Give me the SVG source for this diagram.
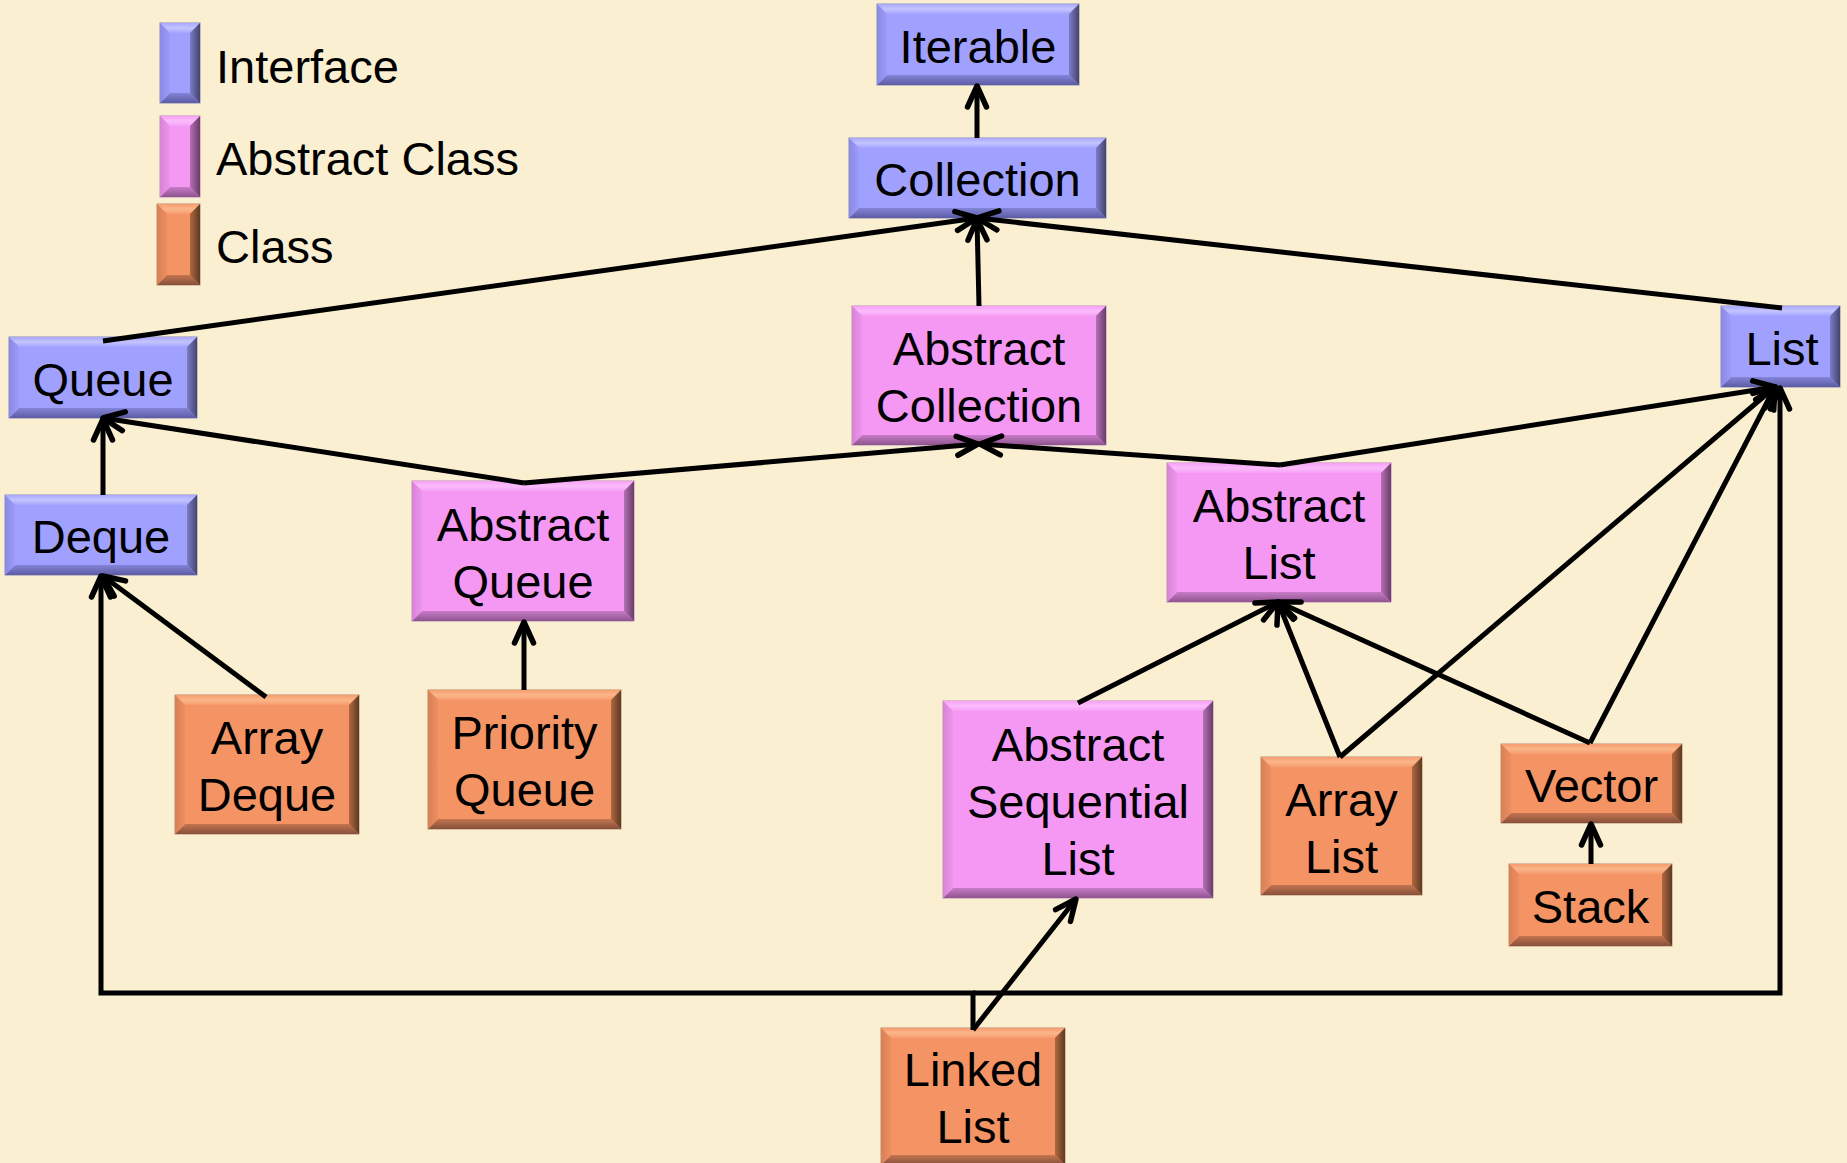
<svg xmlns="http://www.w3.org/2000/svg" width="1847" height="1163" viewBox="0 0 1847 1163">
<defs>
<style>
.bg{fill:#FBEFD2}
text{font-family:"Liberation Sans",Arial,sans-serif;font-size:47px;fill:#000;text-anchor:middle}
.legend text{text-anchor:start}
.edge{fill:none;stroke:#000;stroke-width:5;stroke-linecap:butt;stroke-linejoin:miter}
.iface .m{fill:#A0A0FF;stroke:#8A8AB8;stroke-width:1}
.iface .t{fill:url(#gIT)}
.iface .b{fill:url(#gIB)}
.iface .l{fill:url(#gIL)}
.iface .r{fill:url(#gIR)}
.abs .m{fill:#F498F4;stroke:#B890B8;stroke-width:1}
.abs .t{fill:url(#gAT)}
.abs .b{fill:url(#gAB)}
.abs .l{fill:url(#gAL)}
.abs .r{fill:url(#gAR)}
.cls .m{fill:#F49464;stroke:#B89070;stroke-width:1}
.cls .t{fill:url(#gCT)}
.cls .b{fill:url(#gCB)}
.cls .l{fill:url(#gCL)}
.cls .r{fill:url(#gCR)}
</style>
<linearGradient id="gIT" x1="0" y1="0" x2="0" y2="1"><stop offset="0" stop-color="#A8A8FF"/><stop offset="0.5" stop-color="#C4C4FF"/><stop offset="1" stop-color="#A4A4FF"/></linearGradient>
<linearGradient id="gIB" x1="0" y1="0" x2="0" y2="1"><stop offset="0" stop-color="#8484D8"/><stop offset="1" stop-color="#5C5CA4"/></linearGradient>
<linearGradient id="gIL" x1="0" y1="0" x2="1" y2="0"><stop offset="0" stop-color="#8A8AE6"/><stop offset="1" stop-color="#9C9CF8"/></linearGradient>
<linearGradient id="gIR" x1="0" y1="0" x2="1" y2="0"><stop offset="0" stop-color="#7C7CC8"/><stop offset="1" stop-color="#44446E"/></linearGradient>
<linearGradient id="gAT" x1="0" y1="0" x2="0" y2="1"><stop offset="0" stop-color="#F6A0F6"/><stop offset="0.5" stop-color="#FBBCFB"/><stop offset="1" stop-color="#F6A0F6"/></linearGradient>
<linearGradient id="gAB" x1="0" y1="0" x2="0" y2="1"><stop offset="0" stop-color="#C87CC8"/><stop offset="1" stop-color="#8E548E"/></linearGradient>
<linearGradient id="gAL" x1="0" y1="0" x2="1" y2="0"><stop offset="0" stop-color="#D684D6"/><stop offset="1" stop-color="#EE94EE"/></linearGradient>
<linearGradient id="gAR" x1="0" y1="0" x2="1" y2="0"><stop offset="0" stop-color="#B470B4"/><stop offset="1" stop-color="#6A3C6A"/></linearGradient>
<linearGradient id="gCT" x1="0" y1="0" x2="0" y2="1"><stop offset="0" stop-color="#F69C6E"/><stop offset="0.5" stop-color="#FBB68A"/><stop offset="1" stop-color="#F69C6E"/></linearGradient>
<linearGradient id="gCB" x1="0" y1="0" x2="0" y2="1"><stop offset="0" stop-color="#C47450"/><stop offset="1" stop-color="#86503A"/></linearGradient>
<linearGradient id="gCL" x1="0" y1="0" x2="1" y2="0"><stop offset="0" stop-color="#D88058"/><stop offset="1" stop-color="#EE8E60"/></linearGradient>
<linearGradient id="gCR" x1="0" y1="0" x2="1" y2="0"><stop offset="0" stop-color="#B06840"/><stop offset="1" stop-color="#5E3A24"/></linearGradient>
<marker id="ah" viewBox="-28 -16 32 32" refX="0" refY="0" markerWidth="32" markerHeight="32" markerUnits="userSpaceOnUse" orient="auto">
<path d="M-21,-9.5 L0,0 L-21,9.5" fill="none" stroke="#000" stroke-width="5.5" stroke-linecap="round" stroke-linejoin="round"/>
</marker>
</defs>
<rect class="bg" x="0" y="0" width="1847" height="1163"/>

<g id="legend" class="legend">
<g id="legend-interface" class="iface">
<rect class="m" x="160" y="23" width="40" height="80"/>
<polygon class="t" points="160,23 200,23 190,33 170,33"/>
<polygon class="b" points="160,103 200,103 190,93 170,93"/>
<polygon class="l" points="160,23 170,33 170,93 160,103"/>
<polygon class="r" points="200,23 190,33 190,93 200,103"/>
<text x="216" y="83">Interface</text>
</g>
<g id="legend-abstract" class="abs">
<rect class="m" x="160" y="116" width="40" height="81"/>
<polygon class="t" points="160,116 200,116 190,126 170,126"/>
<polygon class="b" points="160,197 200,197 190,187 170,187"/>
<polygon class="l" points="160,116 170,126 170,187 160,197"/>
<polygon class="r" points="200,116 190,126 190,187 200,197"/>
<text x="216" y="175">Abstract Class</text>
</g>
<g id="legend-class" class="cls">
<rect class="m" x="157" y="204" width="43" height="81"/>
<polygon class="t" points="157,204 200,204 190,214 167,214"/>
<polygon class="b" points="157,285 200,285 190,275 167,275"/>
<polygon class="l" points="157,204 167,214 167,275 157,285"/>
<polygon class="r" points="200,204 190,214 190,275 200,285"/>
<text x="216" y="263">Class</text>
</g>
</g>

<g id="node-iterable" class="iface">
<rect class="m" x="877" y="4" width="202" height="81"/>
<polygon class="t" points="877,4 1079,4 1069,14 887,14"/>
<polygon class="b" points="877,85 1079,85 1069,75 887,75"/>
<polygon class="l" points="877,4 887,14 887,75 877,85"/>
<polygon class="r" points="1079,4 1069,14 1069,75 1079,85"/>
<text x="978" y="62.5">Iterable</text>
</g>
<g id="node-collection" class="iface">
<rect class="m" x="849" y="138" width="257" height="80"/>
<polygon class="t" points="849,138 1106,138 1096,148 859,148"/>
<polygon class="b" points="849,218 1106,218 1096,208 859,208"/>
<polygon class="l" points="849,138 859,148 859,208 849,218"/>
<polygon class="r" points="1106,138 1096,148 1096,208 1106,218"/>
<text x="977.5" y="196">Collection</text>
</g>
<g id="node-queue" class="iface">
<rect class="m" x="9" y="337" width="188" height="81"/>
<polygon class="t" points="9,337 197,337 187,347 19,347"/>
<polygon class="b" points="9,418 197,418 187,408 19,408"/>
<polygon class="l" points="9,337 19,347 19,408 9,418"/>
<polygon class="r" points="197,337 187,347 187,408 197,418"/>
<text x="103" y="395.5">Queue</text>
</g>
<g id="node-deque" class="iface">
<rect class="m" x="5" y="495" width="192" height="80"/>
<polygon class="t" points="5,495 197,495 187,505 15,505"/>
<polygon class="b" points="5,575 197,575 187,565 15,565"/>
<polygon class="l" points="5,495 15,505 15,565 5,575"/>
<polygon class="r" points="197,495 187,505 187,565 197,575"/>
<text x="101" y="553">Deque</text>
</g>
<g id="node-list" class="iface">
<rect class="m" x="1721" y="306" width="119" height="81"/>
<polygon class="t" points="1721,306 1840,306 1830,316 1731,316"/>
<polygon class="b" points="1721,387 1840,387 1830,377 1731,377"/>
<polygon class="l" points="1721,306 1731,316 1731,377 1721,387"/>
<polygon class="r" points="1840,306 1830,316 1830,377 1840,387"/>
<text x="1782" y="364.5">List</text>
</g>
<g id="node-abstract-collection" class="abs">
<rect class="m" x="852" y="306" width="254" height="139"/>
<polygon class="t" points="852,306 1106,306 1096,316 862,316"/>
<polygon class="b" points="852,445 1106,445 1096,435 862,435"/>
<polygon class="l" points="852,306 862,316 862,435 852,445"/>
<polygon class="r" points="1106,306 1096,316 1096,435 1106,445"/>
<text x="979" y="365">Abstract</text>
<text x="979" y="422">Collection</text>
</g>
<g id="node-abstract-queue" class="abs">
<rect class="m" x="412" y="481" width="222" height="140"/>
<polygon class="t" points="412,481 634,481 624,491 422,491"/>
<polygon class="b" points="412,621 634,621 624,611 422,611"/>
<polygon class="l" points="412,481 422,491 422,611 412,621"/>
<polygon class="r" points="634,481 624,491 624,611 634,621"/>
<text x="523" y="540.5">Abstract</text>
<text x="523" y="597.5">Queue</text>
</g>
<g id="node-abstract-list" class="abs">
<rect class="m" x="1167" y="463" width="224" height="139"/>
<polygon class="t" points="1167,463 1391,463 1381,473 1177,473"/>
<polygon class="b" points="1167,602 1391,602 1381,592 1177,592"/>
<polygon class="l" points="1167,463 1177,473 1177,592 1167,602"/>
<polygon class="r" points="1391,463 1381,473 1381,592 1391,602"/>
<text x="1279" y="522">Abstract</text>
<text x="1279" y="579">List</text>
</g>
<g id="node-abstract-sequential-list" class="abs">
<rect class="m" x="943" y="701" width="270" height="197"/>
<polygon class="t" points="943,701 1213,701 1203,711 953,711"/>
<polygon class="b" points="943,898 1213,898 1203,888 953,888"/>
<polygon class="l" points="943,701 953,711 953,888 943,898"/>
<polygon class="r" points="1213,701 1203,711 1203,888 1213,898"/>
<text x="1078" y="760.5">Abstract</text>
<text x="1078" y="817.5">Sequential</text>
<text x="1078" y="874.5">List</text>
</g>
<g id="node-array-deque" class="cls">
<rect class="m" x="175" y="695" width="184" height="139"/>
<polygon class="t" points="175,695 359,695 349,705 185,705"/>
<polygon class="b" points="175,834 359,834 349,824 185,824"/>
<polygon class="l" points="175,695 185,705 185,824 175,834"/>
<polygon class="r" points="359,695 349,705 349,824 359,834"/>
<text x="267" y="754">Array</text>
<text x="267" y="811">Deque</text>
</g>
<g id="node-priority-queue" class="cls">
<rect class="m" x="428" y="690" width="193" height="139"/>
<polygon class="t" points="428,690 621,690 611,700 438,700"/>
<polygon class="b" points="428,829 621,829 611,819 438,819"/>
<polygon class="l" points="428,690 438,700 438,819 428,829"/>
<polygon class="r" points="621,690 611,700 611,819 621,829"/>
<text x="524.5" y="749">Priority</text>
<text x="524.5" y="806">Queue</text>
</g>
<g id="node-array-list" class="cls">
<rect class="m" x="1261" y="757" width="161" height="138"/>
<polygon class="t" points="1261,757 1422,757 1412,767 1271,767"/>
<polygon class="b" points="1261,895 1422,895 1412,885 1271,885"/>
<polygon class="l" points="1261,757 1271,767 1271,885 1261,895"/>
<polygon class="r" points="1422,757 1412,767 1412,885 1422,895"/>
<text x="1341.5" y="815.5">Array</text>
<text x="1341.5" y="872.5">List</text>
</g>
<g id="node-vector" class="cls">
<rect class="m" x="1501" y="744" width="181" height="79"/>
<polygon class="t" points="1501,744 1682,744 1672,754 1511,754"/>
<polygon class="b" points="1501,823 1682,823 1672,813 1511,813"/>
<polygon class="l" points="1501,744 1511,754 1511,813 1501,823"/>
<polygon class="r" points="1682,744 1672,754 1672,813 1682,823"/>
<text x="1591.5" y="801.5">Vector</text>
</g>
<g id="node-stack" class="cls">
<rect class="m" x="1509" y="864" width="163" height="82"/>
<polygon class="t" points="1509,864 1672,864 1662,874 1519,874"/>
<polygon class="b" points="1509,946 1672,946 1662,936 1519,936"/>
<polygon class="l" points="1509,864 1519,874 1519,936 1509,946"/>
<polygon class="r" points="1672,864 1662,874 1662,936 1672,946"/>
<text x="1590.5" y="923">Stack</text>
</g>
<g id="node-linked-list" class="cls">
<rect class="m" x="881" y="1028" width="184" height="137"/>
<polygon class="t" points="881,1028 1065,1028 1055,1038 891,1038"/>
<polygon class="b" points="881,1165 1065,1165 1055,1155 891,1155"/>
<polygon class="l" points="881,1028 891,1038 891,1155 881,1165"/>
<polygon class="r" points="1065,1028 1055,1038 1055,1155 1065,1165"/>
<text x="973" y="1086">Linked</text>
<text x="973" y="1143">List</text>
</g>

<g id="connectors">
<path class="edge" d="M977,138 L977,86" marker-end="url(#ah)"/>
<path class="edge" d="M103,341 L977,218" marker-end="url(#ah)"/>
<path class="edge" d="M979,306 L977,219" marker-end="url(#ah)"/>
<path class="edge" d="M1782,308 L977,218" marker-end="url(#ah)"/>
<path class="edge" d="M103,495 L103,419" marker-end="url(#ah)"/>
<path class="edge" d="M524,483 L103,418" marker-end="url(#ah)"/>
<path class="edge" d="M524,483 L978,444" marker-end="url(#ah)"/>
<path class="edge" d="M1280,465 L980,444" marker-end="url(#ah)"/>
<path class="edge" d="M1280,465 L1775,387" marker-end="url(#ah)"/>
<path class="edge" d="M266,697 L103,576" marker-end="url(#ah)"/>
<path class="edge" d="M524,690 L524,622" marker-end="url(#ah)"/>
<path class="edge" d="M1078,703 L1278,602" marker-end="url(#ah)"/>
<path class="edge" d="M1340,757 L1278,602" marker-end="url(#ah)"/>
<path class="edge" d="M1590,743 L1278,602" marker-end="url(#ah)"/>
<path class="edge" d="M1340,757 L1775,387" marker-end="url(#ah)"/>
<path class="edge" d="M1590,743 L1775,387" marker-end="url(#ah)"/>
<path class="edge" d="M1591,864 L1591,824" marker-end="url(#ah)"/>
<path class="edge" d="M973,1030 L1076,899" marker-end="url(#ah)"/>
<path class="edge" d="M973,1030 L973,993 L101,993 L101,576" marker-end="url(#ah)"/>
<path class="edge" d="M973,993 L1780,993 L1780,388" marker-end="url(#ah)"/>
</g>
</svg>
